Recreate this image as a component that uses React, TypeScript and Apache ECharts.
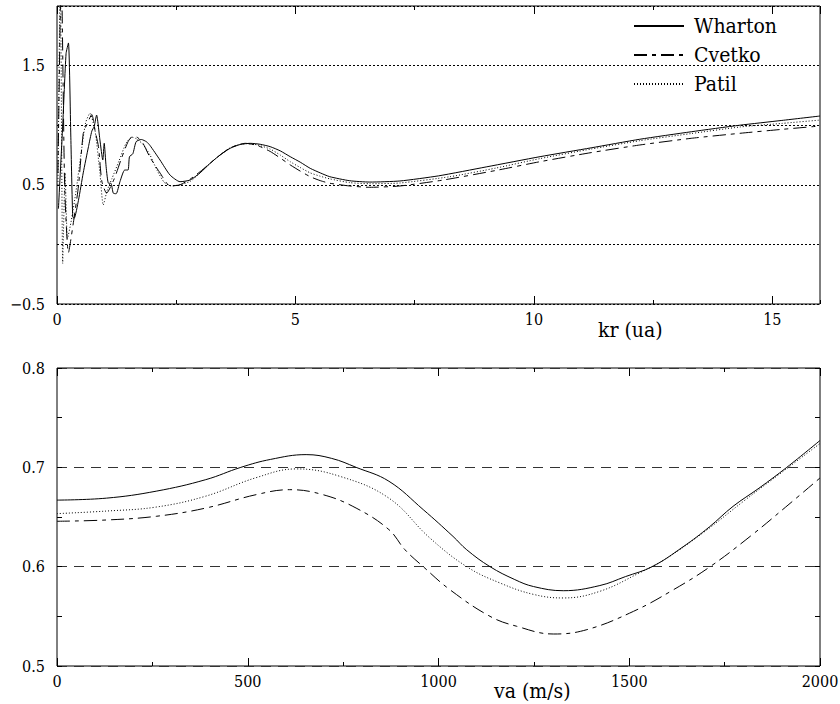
import React, { useEffect, useRef } from "react";
import * as echarts from "echarts";

// ---------- Top panel: kr (ua) ----------
const whartonKr = [0.03,0.12,0.19,0.24,0.29,0.33,0.36,0.45,0.55,0.66,0.73,0.78,0.83,0.90,0.96,0.99,1.03,1.08,1.13,1.18,1.24,1.32,1.42,1.49,1.52,1.59,1.66,1.77,1.88,1.95,2.16,2.37,2.58,2.79,3.0,3.21,3.42,3.63,3.84,4.05,4.26,4.47,4.68,4.89,5.1,5.31,5.52,5.72,6.14,6.56,7.19,8.0,9.0,10.13,11.2,12.22,13.3,14.32,15.2,16.0];
const whartonTop = [0.30,1.0,1.60,1.69,0.9,0.23,0.22,0.37,0.60,0.82,0.95,0.99,1.085,0.876,0.708,0.848,0.652,0.513,0.513,0.43,0.425,0.526,0.624,0.624,0.736,0.76,0.862,0.88,0.86,0.83,0.708,0.582,0.526,0.54,0.60,0.68,0.75,0.806,0.838,0.848,0.84,0.82,0.785,0.736,0.69,0.638,0.6,0.568,0.534,0.523,0.532,0.575,0.65,0.736,0.81,0.882,0.945,1.0,1.04,1.077];

const cvetkoKr = [0.02,0.09,0.16,0.24,0.35,0.45,0.55,0.62,0.73,0.8,0.87,0.94,1.04,1.2,1.35,1.49,1.57,1.67,1.8,1.95,2.16,2.37,2.58,2.8,3.0,3.21,3.42,3.63,3.84,3.95,4.2,4.47,4.68,4.89,5.1,5.31,5.52,5.72,6.14,6.56,7.19,8.1,9.2,10.13,11.2,12.22,13.3,14.32,15.2,16.0];
const cvetkoTop = [0.6,2.3,0.5,-0.07,0.2,0.49,0.93,1.0,1.09,0.95,0.82,0.53,0.43,0.55,0.72,0.862,0.9,0.9,0.85,0.73,0.6,0.49,0.5,0.55,0.61,0.68,0.75,0.81,0.84,0.848,0.83,0.78,0.725,0.667,0.615,0.568,0.535,0.513,0.49,0.479,0.49,0.54,0.62,0.694,0.77,0.834,0.89,0.932,0.965,0.993];

const patilKr = [0.02,0.07,0.12,0.17,0.22,0.3,0.4,0.5,0.6,0.69,0.8,0.9,0.97,1.05,1.15,1.3,1.45,1.57,1.67,1.8,1.95,2.1,2.25,2.4,2.58,2.8,3.0,3.21,3.42,3.63,3.84,3.98,4.2,4.47,4.68,4.89,5.1,5.31,5.52,5.72,6.14,6.56,7.19,8.24,9.2,10.13,11.2,12.22,13.3,14.32,15.2,16.0];
const patilTop = [0.5,2.3,-0.16,0.6,0.05,0.2,0.45,0.75,1.02,1.1,0.95,0.6,0.33,0.45,0.55,0.7,0.85,0.9,0.885,0.84,0.75,0.62,0.52,0.49,0.5,0.53,0.6,0.68,0.75,0.81,0.84,0.845,0.835,0.80,0.75,0.694,0.645,0.6,0.572,0.55,0.518,0.509,0.515,0.568,0.64,0.72,0.80,0.87,0.93,0.985,1.015,1.043];

const topXTicks = [0, 5, 10, 15];
const topYLabels = [-0.5, 0.5, 1.5];

// ---------- Bottom panel: va (m/s) ----------
const whartonVa = [0,130,260,390,482,560,653,720,784,870,960,1038,1074,1135,1200,1249,1327,1423,1490,1560,1641,1710,1772,1840,1913,2000];
const whartonBottom = [0.667,0.669,0.676,0.6876,0.70,0.708,0.7128,0.709,0.70,0.686,0.6574,0.6305,0.617,0.600,0.587,0.580,0.5758,0.581,0.590,0.600,0.620,0.640,0.6607,0.679,0.70,0.727];

const patilVa = [0,130,260,390,522,627,741,870,977,1074,1161,1250,1327,1423,1528,1600,1700,1800,1900,2000];
const patilBottom = [0.6534,0.656,0.660,0.671,0.6896,0.6984,0.691,0.669,0.629,0.600,0.5836,0.572,0.5685,0.5752,0.594,0.609,0.636,0.666,0.695,0.724];

const cvetkoVa = [0,130,260,390,522,610,697,784,870,912,960,1030,1135,1205,1301,1389,1511,1616,1712,1817,1910,2000];
const cvetkoBottom = [0.6457,0.647,0.6507,0.659,0.6725,0.6775,0.6725,0.659,0.6373,0.6171,0.600,0.5768,0.55,0.540,0.5322,0.5366,0.555,0.5768,0.600,0.6305,0.66,0.6893];

const zip = (xs: number[], ys: number[]) => xs.map((x, i) => [x, ys[i]]);

const FONT = "DejaVu Serif Condensed";
const SOLID: any = "solid";
const DASHDOT: any = [13, 5, 4, 5];
const DOTTED: any = [1, 2];

function tickAxis(gridIndex: number, position: string, min: number, max: number, interval: number, length: number, extra: any = {}) {
  return {
    type: "value",
    gridIndex,
    position,
    min,
    max,
    interval,
    axisLine: { show: false, onZero: false },
    axisTick: { show: true, inside: true, length, lineStyle: { color: "#000", width: 1 } },
    axisLabel: { show: false },
    splitLine: { show: false },
    ...extra,
  };
}

export default function App() {
  const ref = useRef<HTMLDivElement>(null);
  useEffect(() => {
    if (!ref.current) return;
    const chart = echarts.init(ref.current, undefined, { renderer: "svg" });
    const labelStyle = { fontFamily: FONT, fontSize: 16, color: "#000" };
    const mk = (name: string, data: number[][], xi: number, yi: number, type: any, smooth: number) => ({
      type: "line",
      name,
      data,
      xAxisIndex: xi,
      yAxisIndex: yi,
      showSymbol: false,
      symbol: "none",
      smooth,
      clip: true,
      lineStyle: { color: "#000", width: 1, type },
      itemStyle: { color: "#000" },
    });
    chart.setOption({
      animation: false,
      backgroundColor: "#fff",
      grid: [
        { left: 57, top: 6, width: 763, height: 298, show: true, borderColor: "#000", borderWidth: 1, outerBoundsMode: "none" },
        { left: 57, top: 368, width: 763, height: 298, show: true, borderColor: "#000", borderWidth: 1, outerBoundsMode: "none" },
      ],
      legend: {
        orient: "vertical",
        left: 628,
        top: 9,
        itemWidth: 50,
        itemHeight: 14,
        itemGap: 5,
        data: ["Wharton", "Cvetko", "Patil"],
        itemStyle: { opacity: 0 },
        textStyle: { fontFamily: FONT, fontSize: 21, lineHeight: 24, color: "#000", padding: [0, 0, 0, 5] },
      },
      xAxis: [
        tickAxis(0, "bottom", 0, 16, 5, 8, {
          axisLabel: {
            show: true,
            margin: 7,
            ...labelStyle,
            showMaxLabel: false,
            formatter: (v: number) => (topXTicks.some((t) => Math.abs(t - v) < 1e-6) ? String(v) : ""),
          },
        }),
        tickAxis(0, "bottom", 0, 16, 2.5, 4),
        tickAxis(0, "top", 0, 16, 5, 8),
        tickAxis(0, "top", 0, 16, 2.5, 4),
        tickAxis(1, "bottom", 0, 2000, 500, 8, {
          axisLabel: { show: true, margin: 7, ...labelStyle, formatter: (v: number) => String(Math.round(v)) },
        }),
        tickAxis(1, "bottom", 0, 2000, 250, 4),
        tickAxis(1, "top", 0, 2000, 500, 8),
        tickAxis(1, "top", 0, 2000, 250, 4),
      ],
      yAxis: [
        {
          type: "value",
          gridIndex: 0,
          position: "left",
          min: -0.5,
          max: 2,
          interval: 0.5,
          axisLine: { show: false, onZero: false },
          axisTick: { show: false },
          axisLabel: {
            show: true,
            margin: 12,
            ...labelStyle,
            formatter: (v: number) => {
              const hit = topYLabels.find((t) => Math.abs(t - v) < 1e-6);
              if (hit === undefined) return "";
              return hit < 0 ? "\u2212" + Math.abs(hit).toFixed(1) : hit.toFixed(1);
            },
          },
          splitLine: { show: true, lineStyle: { color: "#000", width: 1, type: [2, 2] } },
        },
        {
          type: "value",
          gridIndex: 1,
          position: "left",
          min: 0.5,
          max: 0.8,
          interval: 0.1,
          axisLine: { show: false, onZero: false },
          axisTick: { show: true, inside: true, length: 5, lineStyle: { color: "#000" } },
          axisLabel: { show: true, margin: 12, ...labelStyle, formatter: (v: number) => v.toFixed(1) },
          splitLine: { show: true, lineStyle: { color: "#333", width: 1, type: [10, 7] } },
        },
        tickAxis(1, "left", 0.5, 0.8, 0.05, 5),
        tickAxis(1, "right", 0.5, 0.8, 0.1, 5),
        tickAxis(1, "right", 0.5, 0.8, 0.05, 5),
      ],
      graphic: [
        { type: "text", left: 598, top: 319, style: { text: "kr (ua)", fontFamily: FONT, fontSize: 21, fill: "#000" } },
        { type: "text", left: 494, top: 680, style: { text: "va (m/s)", fontFamily: FONT, fontSize: 21, fill: "#000" } },
      ],
      series: [
        mk("Wharton", zip(whartonKr, whartonTop), 0, 0, SOLID, 0.2),
        mk("Cvetko", zip(cvetkoKr, cvetkoTop), 0, 0, DASHDOT, 0.2),
        mk("Patil", zip(patilKr, patilTop), 0, 0, DOTTED, 0.2),
        mk("Wharton", zip(whartonVa, whartonBottom), 4, 1, SOLID, 0.4),
        mk("Cvetko", zip(cvetkoVa, cvetkoBottom), 4, 1, DASHDOT, 0.4),
        mk("Patil", zip(patilVa, patilBottom), 4, 1, DOTTED, 0.4),
      ],
    });
    return () => chart.dispose();
  }, []);
  return (
    <div
      ref={ref}
      style={{ position: "fixed", left: 0, top: 0, width: 840, height: 704, background: "#fff" }}
    />
  );
}
